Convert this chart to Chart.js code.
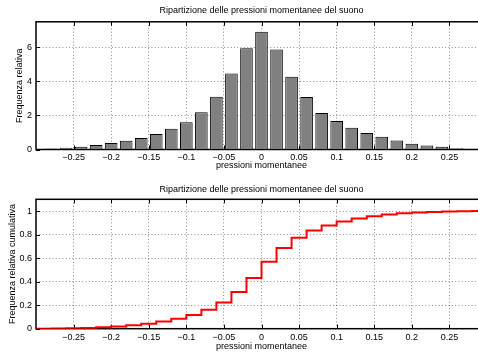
<!DOCTYPE html>
<html>
<head>
<meta charset="utf-8">
<script src="https://cdn.jsdelivr.net/npm/chart.js@4.4.1/dist/chart.umd.min.js"></script>
<style>
  html, body { margin: 0; padding: 0; background: #fff; overflow: hidden; }
  canvas { display: block; }
  #wrap { width: 478px; height: 354px; overflow: hidden; position: relative; }
  #hist { position: absolute; left: 0; top: 0; }
  #cdf { position: absolute; left: 0; top: 177px; }
</style>
</head>
<body>
<div id="wrap">
  <canvas id="hist" width="488" height="177"></canvas>
  <canvas id="cdf" width="488" height="177"></canvas>
</div>
<script>
// bin centres (pressioni momentanee)
const binCenters = [-0.28, -0.26, -0.24, -0.22, -0.20, -0.18, -0.16, -0.14, -0.12, -0.10,
  -0.08, -0.06, -0.04, -0.02, 0, 0.02, 0.04, 0.06, 0.08, 0.10, 0.12, 0.14, 0.16, 0.18,
  0.20, 0.22, 0.24, 0.26, 0.28];

// frequenza relativa
const relFreq = [0.06, 0.10, 0.16, 0.26, 0.38, 0.51, 0.67, 0.91, 1.22, 1.60,
  2.19, 3.10, 4.46, 5.94, 6.92, 5.88, 4.28, 3.08, 2.15, 1.68, 1.28, 0.97, 0.75, 0.53,
  0.34, 0.24, 0.16, 0.08, 0.03];

// frequenza relativa cumulativa
const cdfX = [-0.30, -0.28, -0.26, -0.24, -0.22, -0.20, -0.18, -0.16, -0.14, -0.12, -0.10,
  -0.08, -0.06, -0.04, -0.02, 0, 0.02, 0.04, 0.06, 0.08, 0.10, 0.12, 0.14, 0.16, 0.18,
  0.20, 0.22, 0.24, 0.26, 0.28, 0.30];
const cdfY = [0, 0.001, 0.003, 0.006, 0.012, 0.019, 0.029, 0.043, 0.061, 0.085, 0.117,
  0.161, 0.223, 0.312, 0.431, 0.570, 0.687, 0.773, 0.834, 0.877, 0.911, 0.937, 0.956,
  0.971, 0.982, 0.988, 0.993, 0.996, 0.998, 1.0, 1.0];

const xTicks = [-0.25, -0.2, -0.15, -0.1, -0.05, 0, 0.05, 0.1, 0.15, 0.2, 0.25];
const histYTicks = [0, 2, 4, 6];
const cdfYTicks = [0, 0.2, 0.4, 0.6, 0.8, 1];

const titleText = 'Ripartizione delle pressioni momentanee del suono';
const fontFamily = "'Liberation Sans', Arial, Helvetica, sans-serif";

Chart.defaults.font.family = fontFamily;
Chart.defaults.font.size = 9;
Chart.defaults.color = '#000';

// MATLAB-like box with inward ticks
const boxPlugin = {
  id: 'box',
  beforeDatasetsDraw(chart) {
    const { ctx, chartArea: a, scales } = chart;
    ctx.save();
    ctx.strokeStyle = '#000';
    ctx.lineWidth = 1;
    ctx.beginPath();
    scales.x.ticks.forEach(t => {
      const px = Math.round(scales.x.getPixelForValue(t.value)) + 0.5;
      ctx.moveTo(px, a.bottom);
      ctx.lineTo(px, a.bottom - 4);
      ctx.moveTo(px, a.top);
      ctx.lineTo(px, a.top + 4);
    });
    scales.y.ticks.forEach(t => {
      const py = Math.round(scales.y.getPixelForValue(t.value)) + 0.5;
      ctx.moveTo(a.left, py);
      ctx.lineTo(a.left + 4, py);
      ctx.moveTo(a.right, py);
      ctx.lineTo(a.right - 4, py);
    });
    ctx.stroke();
    ctx.lineWidth = 1.5;
    ctx.strokeRect(a.left, a.top, a.right - a.left, a.bottom - a.top);
    ctx.restore();
  }
};

function fmt(v) {
  return String(v).replace('-', '\u2212');
}

const gridColor = 'rgba(0,0,0,0.45)';

function makeScales(yMin, yMax, yTicks, yLabel, yTitlePad, xTitlePad, xHeight) {
  return {
    x: {
      type: 'linear',
      min: -0.3,
      max: 0.3,
      offset: false,
      afterBuildTicks: s => { s.ticks = xTicks.map(v => ({ value: v })); },
      afterFit: s => { s.height = xHeight; },
      ticks: { padding: 3, maxRotation: 0, autoSkip: false, callback: v => fmt(v) },
      grid: { offset: false, drawTicks: false, color: gridColor, lineWidth: 1 },
      border: { display: false, dash: [1, 2.3] },
      title: { display: true, text: 'pressioni momentanee', padding: { top: 0, bottom: xTitlePad } }
    },
    y: {
      min: yMin,
      max: yMax,
      afterBuildTicks: s => { s.ticks = yTicks.map(v => ({ value: v })); },
      afterFit: s => { s.width = 36; },
      ticks: { padding: 4, callback: v => fmt(v) },
      grid: { drawTicks: false, color: gridColor, lineWidth: 1 },
      border: { display: false, dash: [1, 2.3] },
      title: { display: true, text: yLabel, padding: { top: yTitlePad, bottom: 0 } }
    }
  };
}

new Chart(document.getElementById('hist'), {
  type: 'bar',
  data: {
    datasets: [{
      data: binCenters.map((x, i) => ({ x: x, y: relFreq[i] })),
      backgroundColor: '#808080',
      borderColor: '#000',
      borderWidth: 1,
      barPercentage: 0.84,
      categoryPercentage: 1
    }]
  },
  options: {
    responsive: false,
    animation: false,
    devicePixelRatio: 1,
    layout: { padding: { left: 0, right: 1, top: 0, bottom: 0 } },
    plugins: {
      legend: { display: false },
      tooltip: { enabled: false },
      title: {
        display: true, fullSize: false, text: titleText,
        font: { size: 9, weight: 'normal' }, color: '#000', padding: { top: 5, bottom: 6 }
      }
    },
    scales: makeScales(0, 7.5, histYTicks, 'Frequenza relativa', 14.6, 5.6, 27.5)
  },
  plugins: [boxPlugin]
});

new Chart(document.getElementById('cdf'), {
  type: 'line',
  data: {
    datasets: [{
      data: cdfX.map((x, i) => ({ x: x, y: cdfY[i] })),
      borderColor: '#ff0000',
      borderWidth: 2,
      pointRadius: 0,
      stepped: 'before',
      fill: false
    }]
  },
  options: {
    responsive: false,
    animation: false,
    devicePixelRatio: 1,
    layout: { padding: { left: 0, right: 1, top: 0, bottom: 0 } },
    plugins: {
      legend: { display: false },
      tooltip: { enabled: false },
      title: {
        display: true, fullSize: false, text: titleText,
        font: { size: 9, weight: 'normal' }, color: '#000', padding: { top: 7.6, bottom: 3.9 }
      }
    },
    scales: makeScales(0, 1.1, cdfYTicks, 'Frequenza relativa cumulativa', 7.6, 1.6, 25.3)
  },
  plugins: [boxPlugin]
});
</script>
</body>
</html>
